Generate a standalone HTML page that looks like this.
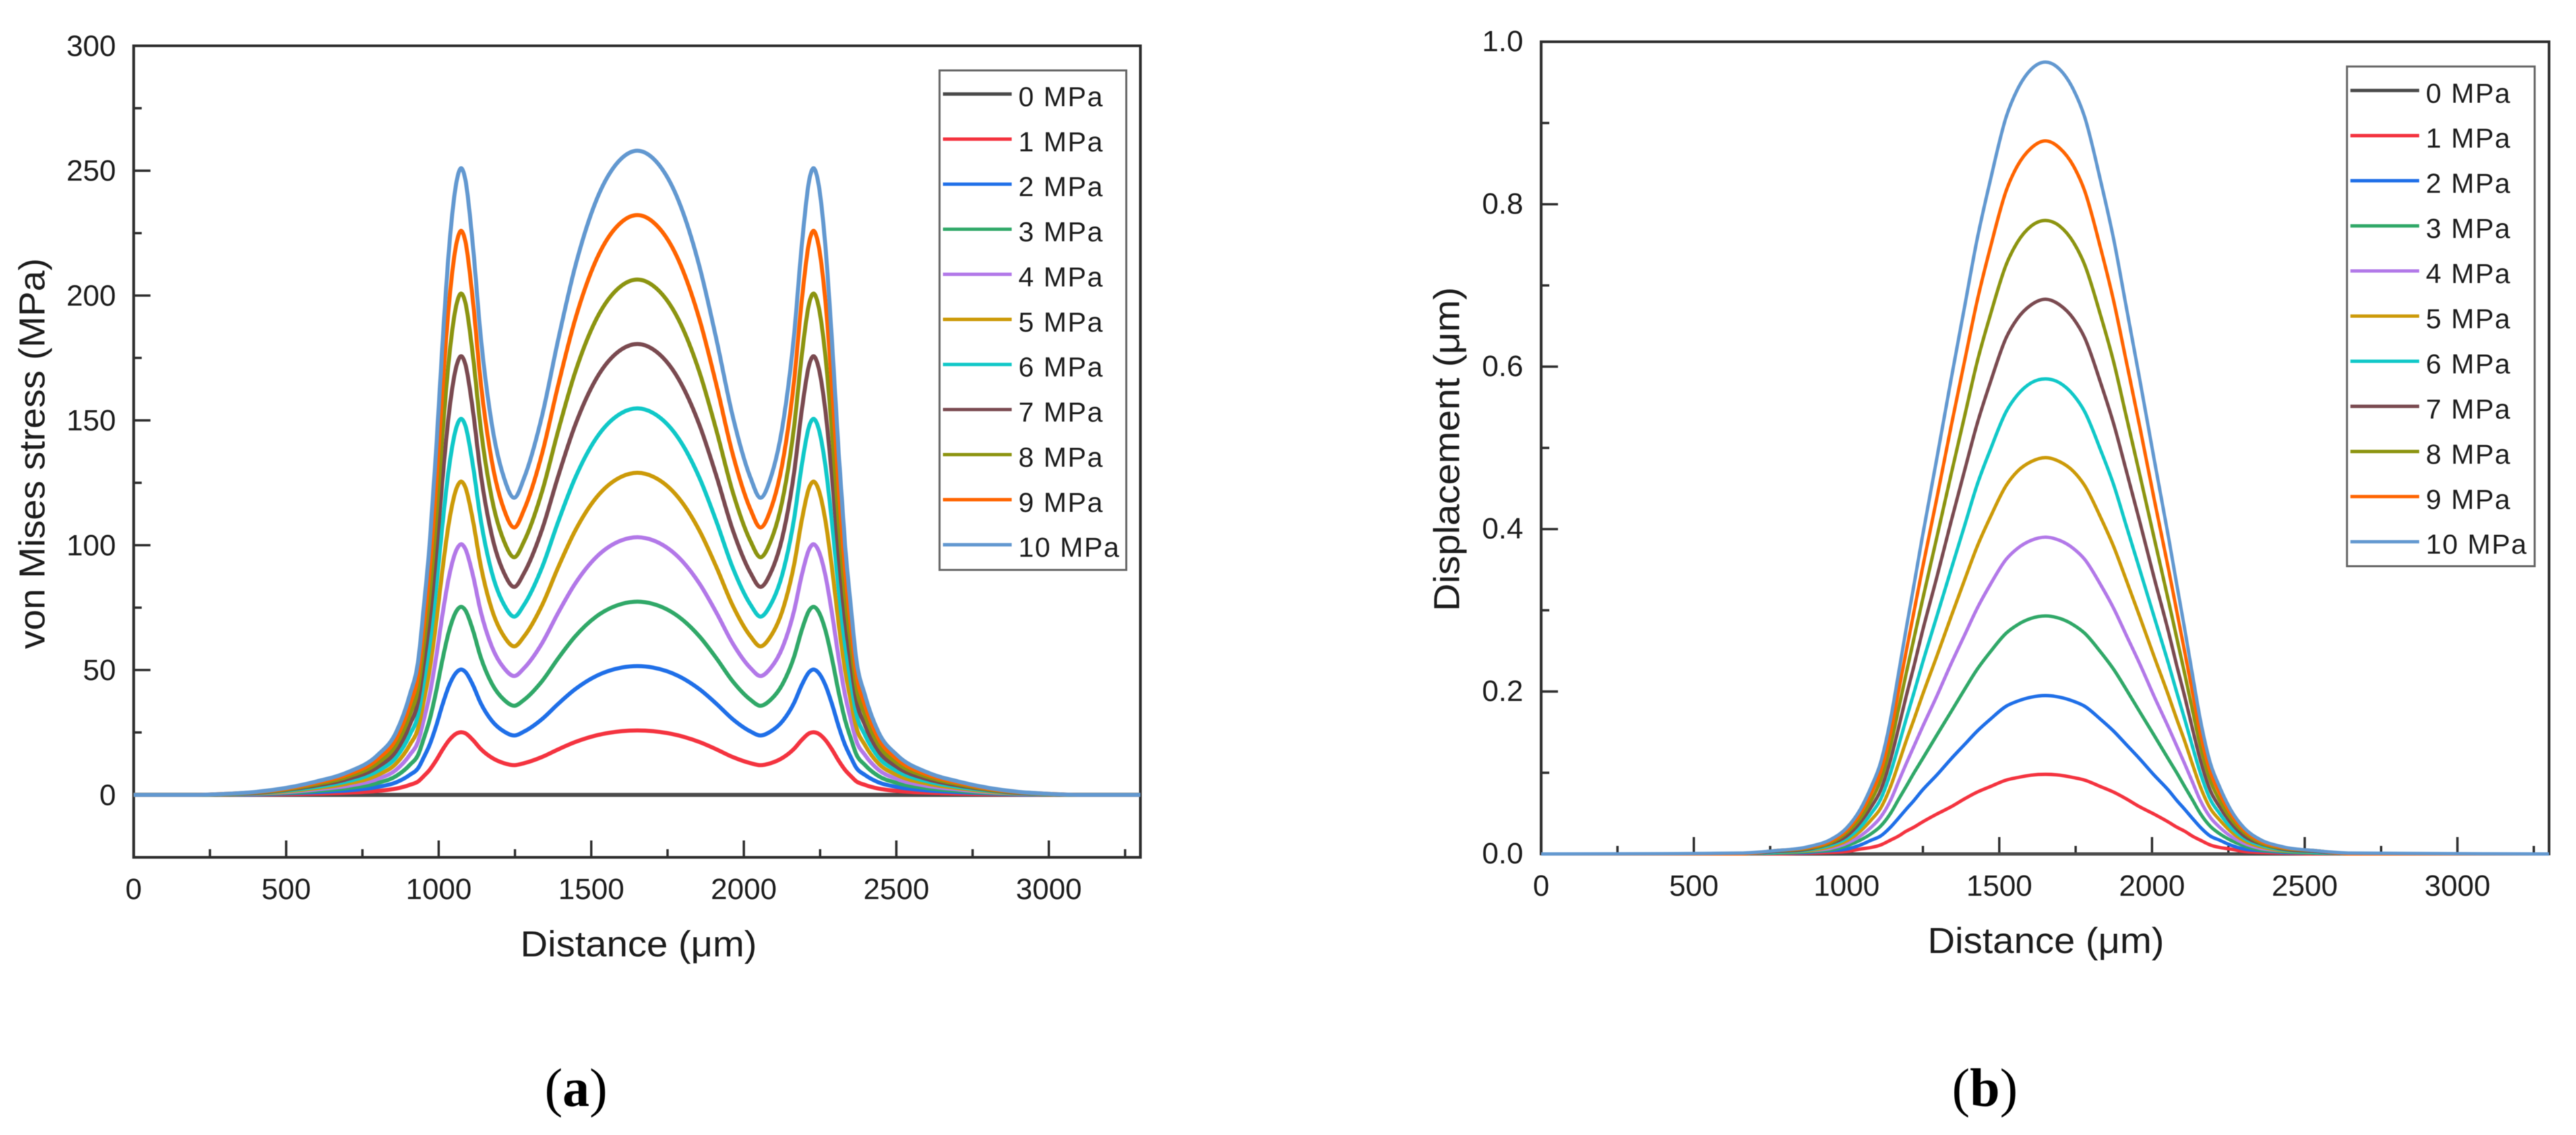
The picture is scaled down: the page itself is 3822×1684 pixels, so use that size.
<!DOCTYPE html>
<html lang="en">
<head>
<meta charset="utf-8">
<title>von Mises stress and displacement vs distance</title>
<style>
html,body{margin:0;padding:0;background:#fff;width:3822px;height:1684px;overflow:hidden}
svg{display:block;filter:blur(0.6px)}
text{font-family:"Liberation Sans",sans-serif;fill:#1c1c1c}
.tick-label{font-size:44px}
.axis-title{font-size:54px}
.legend-text{font-size:41px;letter-spacing:1.6px}
.caption{font-family:"Liberation Serif",serif;font-size:80px;fill:#000}
.caption tspan.b{font-weight:bold}
</style>
</head>
<body>
<svg id="figure" xmlns="http://www.w3.org/2000/svg" width="3822" height="1684" viewBox="0 0 3822 1684">
  <rect x="0" y="0" width="3822" height="1684" fill="#fff"/>
  <g id="chart-a"></g>
  <g id="chart-b"></g>

  <text class="axis-title" x="772" y="1419" textLength="351" lengthAdjust="spacingAndGlyphs">Distance (μm)</text>
  <text class="axis-title" transform="translate(66,963) rotate(-90)" textLength="580" lengthAdjust="spacingAndGlyphs">von Mises stress (MPa)</text>
  <text class="axis-title" x="2860" y="1414" textLength="351" lengthAdjust="spacingAndGlyphs">Distance (μm)</text>
  <text class="axis-title" transform="translate(2165,907) rotate(-90)" textLength="481" lengthAdjust="spacingAndGlyphs">Displacement (μm)</text>

  <text class="caption" x="808" y="1641">(<tspan class="b">a</tspan>)</text>
  <text class="caption" x="2896" y="1641">(<tspan class="b">b</tspan>)</text>
</svg>

<script>
/* ---------- shared categories ---------- */
const seriesLabels = ['0 MPa','1 MPa','2 MPa','3 MPa','4 MPa','5 MPa','6 MPa','7 MPa','8 MPa','9 MPa','10 MPa'];
const seriesColors = ['#4a4a4a','#f4333f','#1f6fe8','#30a868','#b278e8','#cc9a08','#10c8c8','#7a4a50','#8c9410','#ff6400','#6298d0'];
const xMajorTicks = [0,500,1000,1500,2000,2500,3000];
const xMinorTicks = [250,750,1250,1750,2250,2750,3250];

/* ---------- chart (a): von Mises stress ---------- */
const stressYMajorTicks = [0,50,100,150,200,250,300];
const stressYMinorTicks = [25,75,125,175,225,275];
const stressDistance = [0,200,300,400,500,600,700,800,860,905,934,950,970,991,1012,1034,1060,1073,1087,1112,1137,1174,1214,1248,1280,1339,1391,1446,1516,1600,1652,
  1702,1786,1856,1911,1963,2022,2054,2088,2128,2165,2190,2215,2229,2242,2268,2290,2311,2332,2352,2368,2397,2442,2502,2602,2702,2802,2902,3002,3102,3300];
const stress0 = [
  0,0,0,0,0,0,0,0,0,0,
  0,0,0,0,0,0,0,0,0,0,
  0,0,0,0,0,0,0,0,0,0,
  0,0,0,0,0,0,0,0,0,0,
  0,0,0,0,0,0,0,0,0,0,
  0,0,0,0,0,0,0,0,0,0,
  0];
const stress1 = [0,0,0,.1,.3,.5,.9,1.6,2.5,4,5.5,7.4,10,13.7,18,21.9,24.7,25.1,24.7,22,18.5,14.9,12.7,11.9,12.7,15.2,18.2,21.1,23.8,25.5,25.8,
  25.5,23.8,21.1,18.2,15.2,12.7,11.9,12.7,14.9,18.5,22,24.7,25.1,24.7,21.9,18,13.7,10,7.4,5.5,4,2.5,1.6,.9,.5,.3,.1,0,0,0];
const stress2 = [0,0,.1,.2,.6,1.1,1.8,3.2,5,8,11,14.8,20,27.4,36,43.8,49.3,50.2,49.3,44,36.9,29.7,25.4,23.8,25.4,30.4,36.4,42.2,47.6,51,51.6,
  51,47.6,42.2,36.4,30.4,25.4,23.8,25.4,29.7,36.9,44,49.3,50.2,49.3,43.8,36,27.4,20,14.8,11,8,5,3.2,1.8,1.1,.6,.2,.1,0,0];
const stress3 = [0,0,.1,.4,.8,1.6,2.7,4.8,7.5,12,16.5,22.2,30,41.1,54,65.7,74,75.3,74,66,55.4,44.6,38.1,35.7,38.1,45.6,54.6,63.3,71.4,76.5,77.4,
  76.5,71.4,63.3,54.6,45.6,38.1,35.7,38.1,44.6,55.4,66,74,75.3,74,65.7,54,41.1,30,22.2,16.5,12,7.5,4.8,2.7,1.6,.8,.4,.1,0,0];
const stress4 = [0,0,.2,.5,1.1,2.2,3.6,6.4,10,16,22,29.6,40,54.8,72,87.6,98.6,100.4,98.6,88,73.8,59.4,50.8,47.6,50.8,60.8,72.8,84.4,95.2,102,103.2,
  102,95.2,84.4,72.8,60.8,50.8,47.6,50.8,59.4,73.8,88,98.6,100.4,98.6,87.6,72,54.8,40,29.6,22,16,10,6.4,3.6,2.2,1.1,.5,.2,0,0];
const stress5 = [0,0,.2,.6,1.4,2.7,4.5,8,12.5,20,27.5,37,50,68.5,90,109.5,123.3,125.5,123.3,110,92.3,74.3,63.5,59.5,63.5,76,91,105.5,119,127.5,129,
  127.5,119,105.5,91,76,63.5,59.5,63.5,74.3,92.3,110,123.3,125.5,123.3,109.5,90,68.5,50,37,27.5,20,12.5,8,4.5,2.7,1.4,.6,.2,0,0];
const stress6 = [0,0,.2,.7,1.7,3.2,5.4,9.6,15,24,33,44.4,60,82.2,108,131.4,148,150.6,148,132,110.7,89.1,76.2,71.4,76.2,91.2,109.2,126.6,142.8,153,154.8,
  153,142.8,126.6,109.2,91.2,76.2,71.4,76.2,89.1,110.7,132,148,150.6,148,131.4,108,82.2,60,44.4,33,24,15,9.6,5.4,3.2,1.7,.7,.2,0,0];
const stress7 = [0,0,.3,.8,2,3.8,6.3,11.2,17.5,28,38.5,51.8,70,95.9,126,153.3,172.6,175.7,172.6,154,129.2,104,88.9,83.3,88.9,106.4,127.4,147.7,166.6,178.5,180.6,
  178.5,166.6,147.7,127.4,106.4,88.9,83.3,88.9,104,129.2,154,172.6,175.7,172.6,153.3,126,95.9,70,51.8,38.5,28,17.5,11.2,6.3,3.8,2,.8,.3,0,0];
const stress8 = [0,0,.3,1,2.2,4.3,7.2,12.8,20,32,44,59.2,80,109.6,144,175.2,197.3,200.8,197.3,176,147.6,118.8,101.6,95.2,101.6,121.6,145.6,168.8,190.4,204,206.4,
  204,190.4,168.8,145.6,121.6,101.6,95.2,101.6,118.8,147.6,176,197.3,200.8,197.3,175.2,144,109.6,80,59.2,44,32,20,12.8,7.2,4.3,2.2,1,.3,0,0];
const stress9 = [0,0,.4,1.1,2.5,4.9,8.1,14.4,22.5,36,49.5,66.6,90,123.3,162,197.1,221.9,225.9,221.9,198,166,133.7,114.3,107.1,114.3,136.8,163.8,189.9,214.2,229.5,232.2,
  229.5,214.2,189.9,163.8,136.8,114.3,107.1,114.3,133.7,166,198,221.9,225.9,221.9,197.1,162,123.3,90,66.6,49.5,36,22.5,14.4,8.1,4.9,2.5,1.1,.4,0,0];
const stress10 = [0,0,.4,1.2,2.8,5.4,9,16,25,40,55,74,100,137,180,219,246.6,251,246.6,220,184.5,148.5,127,119,127,152,182,211,238,255,258,
  255,238,211,182,152,127,119,127,148.5,184.5,220,246.6,251,246.6,219,180,137,100,74,55,40,25,16,9,5.4,2.8,1.2,.4,0,0];
const stressSeries = [stress0,stress1,stress2,stress3,stress4,stress5,stress6,stress7,stress8,stress9,stress10];

/* ---------- chart (b): displacement ---------- */
const dispYMajorTicks = ['0.0','0.2','0.4','0.6','0.8','1.0'];
const dispYMinorTicks = [0.1,0.3,0.5,0.7,0.9];
const dispDistance = [0,650,765,876,949,1000,1045,1081,1111,1144,1170,1195,1221,1247,1295,1342,1387,1427,1471,1523,1559,1604,1652,
  1698,1743,1779,1831,1875,1915,1960,2007,2055,2081,2107,2132,2158,2191,2221,2257,2302,2353,2426,2537,2652,3300];
const disp0 = [
  0,0,0,0,0,0,0,0,0,0,
  0,0,0,0,0,0,0,0,0,0,
  0,0,0,0,0,0,0,0,0,0,
  0,0,0,0,0,0,0,0,0,0,
  0,0,0,0,0];
const disp1 = [0,0,0,.001,.002,.003,.006,.008,.011,.017,.022,.028,.033,.039,.049,.058,.068,.076,.083,.091,.094,.097,.098,
  .097,.094,.091,.083,.076,.068,.058,.049,.039,.033,.028,.022,.017,.011,.008,.006,.003,.002,.001,0,0,0];
const disp2 = [0,0,.001,.002,.004,.006,.011,.017,.022,.033,.044,.055,.066,.078,.097,.117,.135,.151,.166,.182,.188,.193,.195,
  .193,.188,.182,.166,.151,.135,.117,.097,.078,.066,.055,.044,.033,.022,.017,.011,.006,.004,.002,.001,0,0];
const disp3 = [0,0,.001,.003,.005,.010,.017,.025,.034,.050,.067,.083,.100,.116,.146,.175,.203,.227,.249,.272,.282,.290,.293,
  .290,.282,.272,.249,.227,.203,.175,.146,.116,.100,.083,.067,.050,.034,.025,.017,.010,.005,.003,.001,0,0];
const disp4 = [0,0,.002,.004,.007,.013,.022,.033,.045,.066,.089,.111,.133,.155,.194,.234,.270,.302,.332,.363,.376,.386,.390,
  .386,.376,.363,.332,.302,.270,.234,.194,.155,.133,.111,.089,.066,.045,.033,.022,.013,.007,.004,.002,0,0];
const disp5 = [0,0,.002,.004,.009,.016,.028,.042,.056,.083,.111,.139,.166,.194,.243,.292,.338,.378,.415,.454,.471,.483,.488,
  .483,.471,.454,.415,.378,.338,.292,.243,.194,.166,.139,.111,.083,.056,.042,.028,.016,.009,.004,.002,0,0];
const disp6 = [0,0,.002,.005,.011,.019,.033,.050,.067,.100,.133,.166,.199,.233,.292,.350,.405,.454,.498,.545,.565,.580,.585,
  .580,.565,.545,.498,.454,.405,.350,.292,.233,.199,.166,.133,.100,.067,.050,.033,.019,.011,.005,.002,0,0];
const disp7 = [0,0,.003,.006,.013,.022,.039,.058,.078,.116,.155,.194,.232,.272,.340,.409,.473,.529,.581,.636,.659,.676,.683,
  .676,.659,.636,.581,.529,.473,.409,.340,.272,.232,.194,.155,.116,.078,.058,.039,.022,.013,.006,.003,0,0];
const disp8 = [0,0,.004,.007,.014,.026,.044,.066,.090,.133,.178,.222,.266,.310,.389,.467,.540,.605,.664,.726,.753,.773,.780,
  .773,.753,.726,.664,.605,.540,.467,.389,.310,.266,.222,.178,.133,.090,.066,.044,.026,.014,.007,.004,0,0];
const disp9 = [0,0,.004,.008,.016,.029,.050,.075,.101,.149,.200,.249,.299,.349,.437,.526,.608,.680,.747,.817,.847,.869,.878,
  .869,.847,.817,.747,.680,.608,.526,.437,.349,.299,.249,.200,.149,.101,.075,.050,.029,.016,.008,.004,0,0];
const disp10 = [0,.001,.004,.009,.018,.032,.055,.083,.112,.166,.222,.277,.332,.388,.486,.584,.675,.756,.830,.908,.941,.966,.975,
  .966,.941,.908,.830,.756,.675,.584,.486,.388,.332,.277,.222,.166,.112,.083,.055,.032,.018,.009,.004,.001,0];
const dispSeries = [disp0,disp1,disp2,disp3,disp4,disp5,disp6,disp7,disp8,disp9,disp10];

/* ---------- drawing helpers ---------- */
const NS = 'http://www.w3.org/2000/svg';

function linearScale(d0, d1, r0, r1) {
  return function (v) { return r0 + (v - d0) * (r1 - r0) / (d1 - d0); };
}

function drawLine(parent, x1, y1, x2, y2, stroke, width, name) {
  const el = document.createElementNS(NS, 'line');
  el.setAttribute('x1', x1);
  el.setAttribute('y1', y1);
  el.setAttribute('x2', x2);
  el.setAttribute('y2', y2);
  el.setAttribute('stroke', stroke);
  el.setAttribute('stroke-width', width);
  
  
  parent.appendChild(el);
  return el;
}

function drawText(parent, x, y, str, anchor, cls, name) {
  const el = document.createElementNS(NS, 'text');
  el.setAttribute('x', x);
  el.setAttribute('y', y);
  el.setAttribute('text-anchor', anchor);
  el.setAttribute('class', cls);
  
  
  el.textContent = str;
  parent.appendChild(el);
  return el;
}

/* smooth cubic path through the data points, mapped by the axis functions */
function curvePath(xs, ys, xScale, yScale) {
  const n = Math.min(xs.length, ys.length);
  const px = [], py = [];
  for (let i = 0; i < n; i++) {
    px[i] = xScale(xs[i]);
    py[i] = yScale(ys[i]);
  }
  const dx = [], slope = [], t = [];
  for (let i = 0; i < n - 1; i++) {
    dx[i] = px[i + 1] - px[i];
    slope[i] = (py[i + 1] - py[i]) / dx[i];
  }
  t[0] = slope[0];
  t[n - 1] = slope[n - 2];
  for (let i = 1; i < n - 1; i++) {
    const a = slope[i - 1], b = slope[i];
    const parabolic = (a * dx[i] + b * dx[i - 1]) / (dx[i - 1] + dx[i]);
    if (a === 0 || b === 0) {
      t[i] = 0;
    } else if (a * b < 0) {
      t[i] = parabolic;
    } else {
      const limit = 3 * Math.min(Math.abs(a), Math.abs(b));
      t[i] = Math.sign(parabolic) * Math.min(Math.abs(parabolic), limit);
    }
  }
  let d = 'M' + px[0].toFixed(2) + ' ' + py[0].toFixed(2);
  for (let i = 0; i < n - 1; i++) {
    const h = dx[i] / 3;
    d += 'C' + (px[i] + h).toFixed(2) + ' ' + (py[i] + t[i] * h).toFixed(2) + ' ' +
         (px[i + 1] - h).toFixed(2) + ' ' + (py[i + 1] - t[i + 1] * h).toFixed(2) + ' ' +
         px[i + 1].toFixed(2) + ' ' + py[i + 1].toFixed(2);
  }
  return d;
}

function drawChart(root, cfg) {
  const frameColor = '#2e2e2e';
  const x = linearScale(0, 3300, cfg.left, cfg.right);
  const y = linearScale(cfg.yMin, cfg.yMax, cfg.bottom, cfg.top);

  /* frame */
  const frame = document.createElementNS(NS, 'rect');
  frame.setAttribute('x', cfg.left);
  frame.setAttribute('y', cfg.top);
  frame.setAttribute('width', cfg.right - cfg.left);
  frame.setAttribute('height', cfg.bottom - cfg.top);
  frame.setAttribute('fill', 'none');
  frame.setAttribute('stroke', frameColor);
  frame.setAttribute('stroke-width', 4);
  
  
  root.appendChild(frame);

  /* x axis ticks and labels */
  xMajorTicks.forEach(function (v) {
    drawLine(root, x(v), cfg.bottom, x(v), cfg.bottom - 25, frameColor, 3.5, cfg.prefix + '-x-major-tick');
    drawText(root, x(v), cfg.xLabelY, String(v), 'middle', 'tick-label', cfg.prefix + '-x-tick-label');
  });
  xMinorTicks.forEach(function (v) {
    drawLine(root, x(v), cfg.bottom, x(v), cfg.bottom - 12, frameColor, 3.5, cfg.prefix + '-x-minor-tick');
  });

  /* y axis ticks and labels */
  cfg.yMajor.forEach(function (v) {
    const py = y(Number(v));
    drawLine(root, cfg.left, py, cfg.left + 25, py, frameColor, 3.5, cfg.prefix + '-y-major-tick');
    drawText(root, cfg.yLabelX, py + cfg.yLabelDy, String(v), 'end', 'tick-label', cfg.prefix + '-y-tick-label');
  });
  cfg.yMinor.forEach(function (v) {
    drawLine(root, cfg.left, y(v), cfg.left + 12, y(v), frameColor, 3.5, cfg.prefix + '-y-minor-tick');
  });

  /* series */
  cfg.series.forEach(function (vals, i) {
    const el = document.createElementNS(NS, 'path');
    el.setAttribute('d', curvePath(cfg.xs, vals, x, y));
    el.setAttribute('fill', 'none');
    el.setAttribute('stroke', seriesColors[i]);
    el.setAttribute('stroke-width', cfg.lineWidth);
    el.setAttribute('stroke-linejoin', 'round');
    
    
    root.appendChild(el);
  });

  /* legend */
  const box = document.createElementNS(NS, 'rect');
  box.setAttribute('x', cfg.legend.x);
  box.setAttribute('y', cfg.legend.y);
  box.setAttribute('width', cfg.legend.w);
  box.setAttribute('height', cfg.legend.h);
  box.setAttribute('fill', '#fff');
  box.setAttribute('stroke', '#666');
  box.setAttribute('stroke-width', 3);
  
  
  root.appendChild(box);

  seriesLabels.forEach(function (label, i) {
    const rowY = cfg.legend.y + cfg.legend.firstRow + i * cfg.legend.rowStep;
    drawLine(root, cfg.legend.x + 5, rowY, cfg.legend.x + 107, rowY, seriesColors[i], 5, cfg.prefix + '-legend-swatch');
    drawText(root, cfg.legend.x + 117, rowY + 18, label, 'start', 'legend-text', cfg.prefix + '-legend-label');
  });
}

drawChart(document.getElementById('chart-a'), {
  prefix: 'stress', left: 198.3, right: 1692, top: 68, bottom: 1272,
  yMin: -25, yMax: 300, yMajor: stressYMajorTicks, yMinor: stressYMinorTicks,
  xs: stressDistance, series: stressSeries, lineWidth: 6,
  xLabelY: 1334, yLabelX: 172, yLabelDy: 15,
  legend: { x: 1394, y: 104.5, w: 277, h: 741, firstRow: 35, rowStep: 66.87 }
});

drawChart(document.getElementById('chart-b'), {
  prefix: 'displacement', left: 2286.6, right: 3782, top: 62, bottom: 1267,
  yMin: 0, yMax: 1, yMajor: dispYMajorTicks, yMinor: dispYMinorTicks,
  xs: dispDistance, series: dispSeries, lineWidth: 5,
  xLabelY: 1329, yLabelX: 2260, yLabelDy: 14,
  legend: { x: 3482.3, y: 98.7, w: 278.4, h: 741.3, firstRow: 35.6, rowStep: 66.94 }
});
</script>
</body>
</html>
